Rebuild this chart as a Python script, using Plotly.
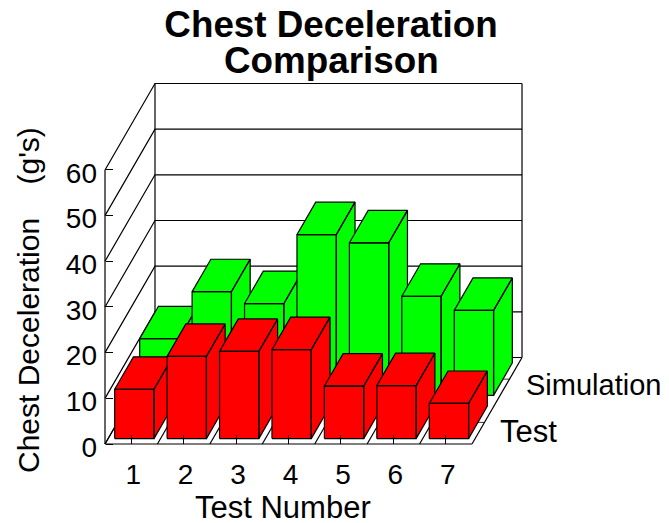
import plotly.graph_objects as go

# values (g's)
tests = ["1", "2", "3", "4", "5", "6", "7"]
test_vals = [10.8, 18.0, 19.1, 19.5, 11.5, 11.6, 7.7]
sim_vals = [12.4, 22.7, 20.1, 35.2, 33.4, 21.7, 18.6]
y_ticks = [0, 10, 20, 30, 40, 50, 60]

# --- oblique projection: slot units on x, g's on y ---
PAGE = 8  # body margin of the page the figure lands in
W, H = 669 - PAGE, 523 - PAGE
PX_SLOT = 52.43
PX_G = 4.567
X0_PX, Y0_PX = 105 - PAGE, 444 - PAGE  # front left corner of the floor
DX = 50 / PX_SLOT  # shift of full depth, in slots
DY = 86.5 / PX_G  # shift of full depth, in g's
BAR_W = 0.75
BAR_D = 0.375
FONT = "Liberation Sans"


def px(x):
    return (x - PAGE) / W


def py(y):
    return 1 - (y - PAGE) / H


def proj(x, d, v):
    return x + d * DX, v + d * DY


def poly(points):
    xs, ys = [], []
    for x, d, v in points:
        a, b = proj(x, d, v)
        xs.append(a)
        ys.append(b)
    return xs, ys


def line(points, width=1.2):
    xs, ys = poly(points)
    return go.Scatter(x=xs, y=ys, mode="lines", showlegend=False, hoverinfo="skip",
                      line=dict(color="black", width=width))


def bar(i, d0, val, color, name):
    x0, x1 = i + (1 - BAR_W) / 2, i + (1 + BAR_W) / 2
    d1 = d0 + BAR_D
    faces = [
        [(x0, d0, 0), (x1, d0, 0), (x1, d0, val), (x0, d0, val), (x0, d0, 0)],
        [(x1, d0, 0), (x1, d1, 0), (x1, d1, val), (x1, d0, val), (x1, d0, 0)],
        [(x0, d0, val), (x1, d0, val), (x1, d1, val), (x0, d1, val), (x0, d0, val)],
    ]
    xs, ys = [], []
    for f in faces:
        fx, fy = poly(f)
        xs += fx + [None]
        ys += fy + [None]
    return go.Scatter(x=xs, y=ys, mode="lines", fill="toself", fillcolor=color, name=name,
                      showlegend=False, line=dict(color="black", width=1.2))


def label(text, x, y, font, anchor="center", angle=0):
    return dict(text=text, xref="paper", yref="paper", x=px(x), y=py(y), xanchor=anchor,
                yanchor="middle", textangle=angle, showarrow=False, font=font)


fig = go.Figure()

# walls
for v in y_ticks:
    fig.add_trace(line([(0, 0, v), (0, 1, v), (7, 1, v)]))
fig.add_trace(line([(0, 0, 0), (0, 0, 60)]))
fig.add_trace(line([(0, 1, 0), (0, 1, 60)]))
fig.add_trace(line([(7, 1, 0), (7, 1, 60)]))

# floor
fig.add_trace(line([(0, 0, 0), (7, 0, 0)]))
for i in range(8):
    fig.add_trace(line([(i, 0, 0), (i, 1, 0)]))

# depth ticks on the right edge
for d in [0.25, 0.75]:
    fig.add_trace(line([(6.87, d, 0), (7, d, 0)], width=0.8))

# bars, back row first
for i, v in enumerate(sim_vals):
    fig.add_trace(bar(i, 0.5625, v, "#00FF00", "Simulation"))
for i, v in enumerate(test_vals):
    fig.add_trace(bar(i, 0.0625, v, "#FF0000", "Test"))

axis_font = dict(family=FONT, size=28, color="black")
text_font = dict(family=FONT, size=30, color="black")
wide_font = dict(family=FONT, size=31, color="black")
side_font = dict(family=FONT, size=29, color="black")
title_font = dict(family=FONT, size=36.8, color="black")

fig.update_layout(
    width=W,
    height=H,
    autosize=False,
    margin=dict(l=0, r=0, t=0, b=0),
    paper_bgcolor="white",
    plot_bgcolor="white",
    showlegend=False,
    title=dict(text="<b>Chest Deceleration</b>", x=px(331), xanchor="center",
               y=py(24), yanchor="middle", font=title_font),
    xaxis=dict(
        range=[-X0_PX / PX_SLOT, (W - X0_PX) / PX_SLOT],
        anchor="free", position=(H - Y0_PX) / H,
        tickmode="array", tickvals=[i + 0.5 for i in range(7)], ticktext=tests,
        ticks="inside", ticklen=9, tickcolor="black", tickwidth=1,
        showgrid=False, zeroline=False, showline=False,
        tickfont=axis_font, ticklabelstandoff=11, ticklabelshift=2,
    ),
    yaxis=dict(
        range=[-(H - Y0_PX) / PX_G, Y0_PX / PX_G],
        anchor="free", position=X0_PX / W,
        tickmode="array", tickvals=y_ticks,
        ticks="inside", ticklen=7, tickcolor="black", tickwidth=1,
        showgrid=False, zeroline=False, showline=False,
        tickfont=axis_font, ticklabelstandoff=8, ticklabelshift=3,
    ),
    annotations=[
        label("<b>Comparison</b>", 331, 60, title_font),
        label("Test Number", 283, 507, wide_font),
        label("Chest Deceleration\u00a0\u00a0\u00a0\u00a0(g's)", 28, 300, text_font, angle=-90),
        label("Simulation", 524, 385, side_font, anchor="left"),
        label("Test", 498, 431, wide_font, anchor="left"),
    ],
)

fig.write_html("out.html")
